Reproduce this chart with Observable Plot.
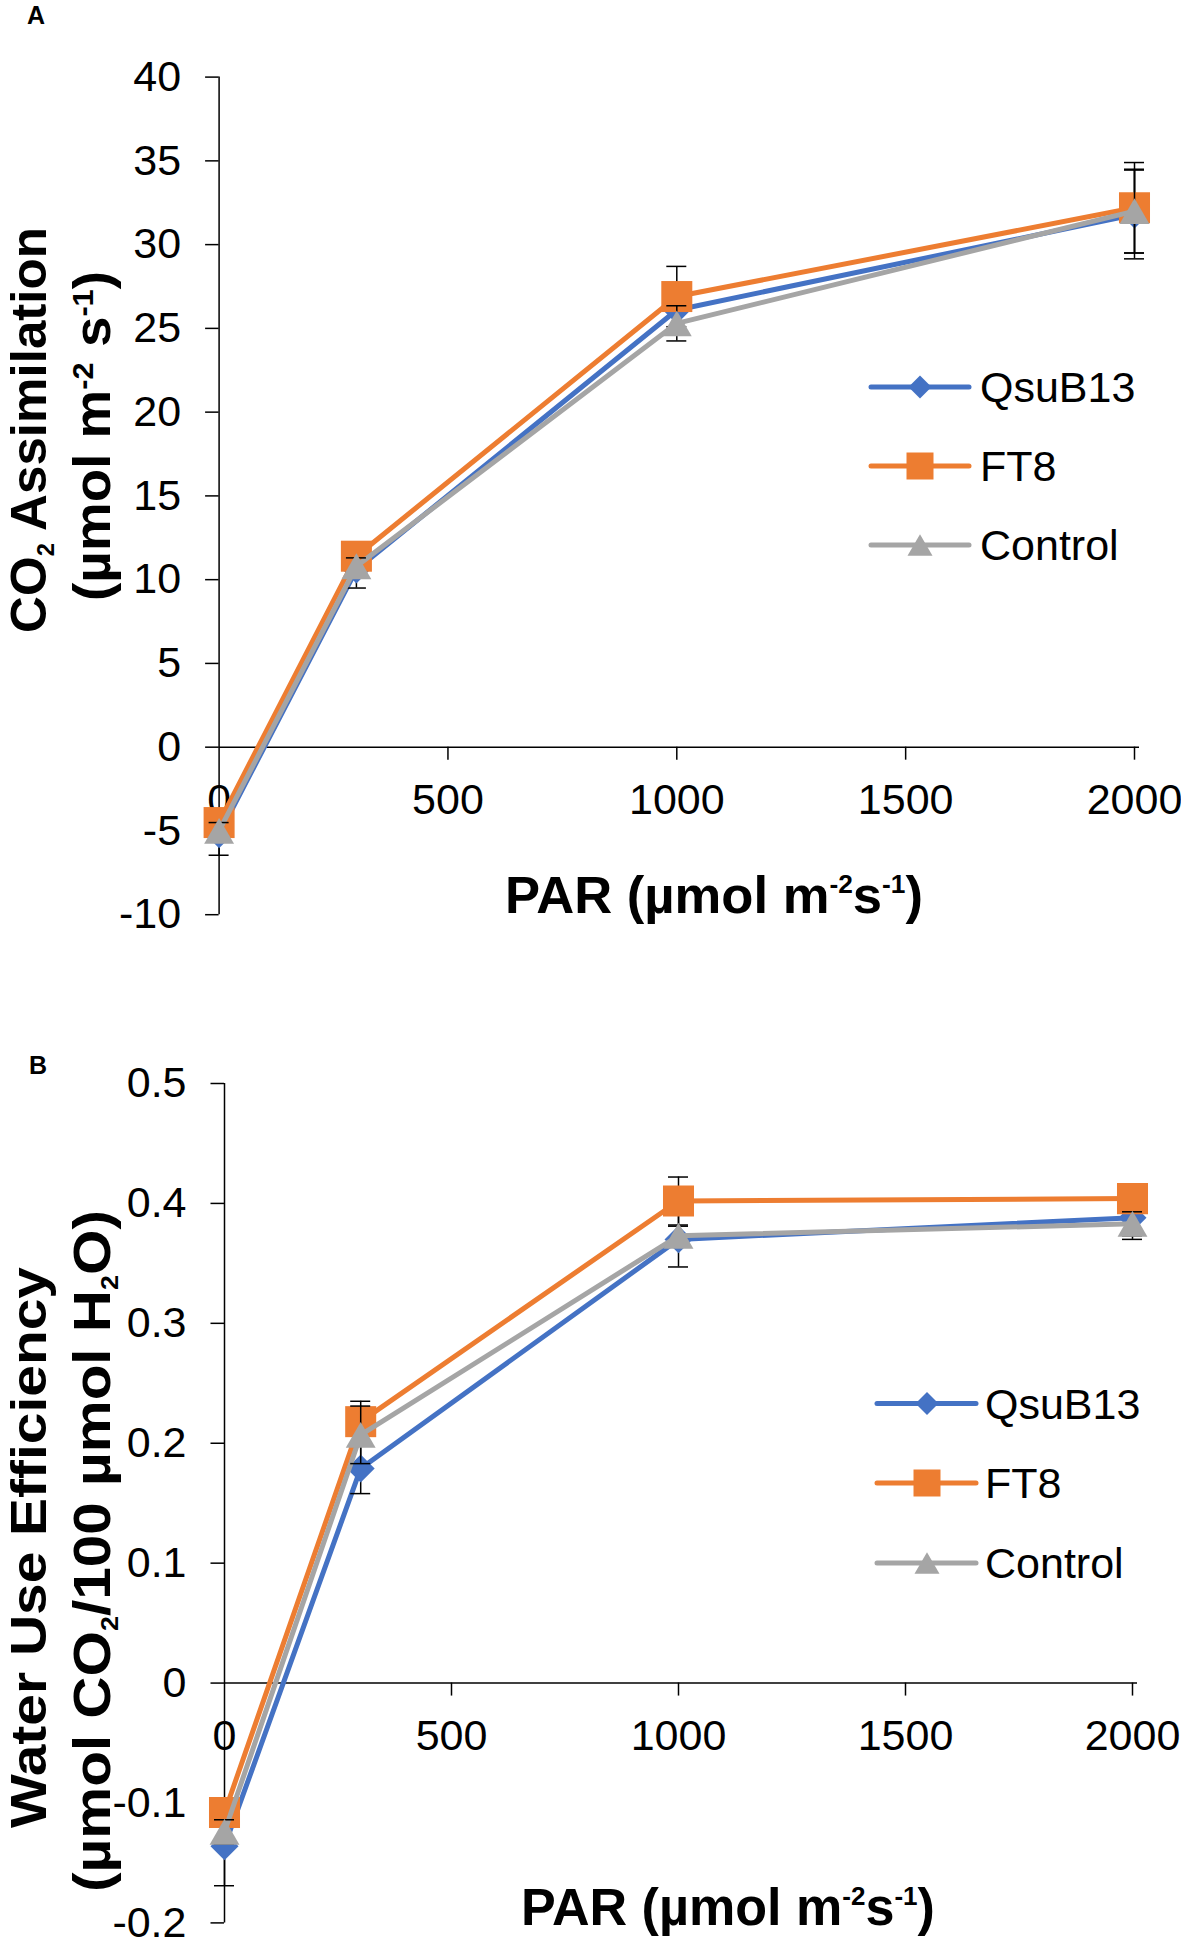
<!DOCTYPE html>
<html>
<head>
<meta charset="utf-8">
<script src="https://cdn.jsdelivr.net/npm/d3@7"></script>
<script src="https://cdn.jsdelivr.net/npm/@observablehq/plot@0.6"></script>
<style>
html, body { margin: 0; padding: 0; background: #fff; overflow: hidden; }
#wrap { position: relative; width: 1181px; height: 1938px; background: #fff; }
#wrap svg { position: absolute; left: 0; }
</style>
</head>
<body>
<div id="wrap"></div>
<script>
// ---------- data ----------
const par = [0, 300, 1000, 2000];
const seriesNames = ["QsuB13", "FT8", "Control"];

const assimQsuB13    = [-5.2, 10.6, 26.1, 31.8];
const assimQsuB13Err = [1.25, 1.1, 1.3, 2.65];
const assimFT8       = [-4.5, 11.4, 26.9, 32.2];
const assimFT8Err    = [0.6, 0.8, 1.8, 2.7];
const assimControl   = [-5.0, 10.8, 25.3, 32.0];
const assimControlErr= [0.5, 0.5, 1.05, 2.5];

const wueQsuB13      = [-0.136, 0.179, 0.370, 0.388];
const wueQsuB13Err   = [0.033, 0.021, 0.023, 0.018];
const wueFT8         = [-0.108, 0.218, 0.402, 0.404];
const wueFT8Err      = [0.010, 0.017, 0.020, 0.012];
const wueControl     = [-0.124, 0.207, 0.373, 0.383];
const wueControlErr  = [0.010, 0.024, 0.008, 0.010];

const xTicks  = [0, 500, 1000, 1500, 2000];
const yTicksA = [-10, -5, 0, 5, 10, 15, 20, 25, 30, 35, 40];
const yTicksB = [-0.2, -0.1, 0, 0.1, 0.2, 0.3, 0.4, 0.5];

// ---------- styles ----------
const FONT = "'Liberation Sans', Arial, Helvetica, sans-serif";
const COLORS = {QsuB13: "#4472C4", FT8: "#ED7D31", Control: "#A5A5A5"};
const SYM = {QsuB13: "diamond2", FT8: "square", Control: "triangle"};
const DOT_R = {QsuB13: 12.6, FT8: 17.5, Control: 11.1};
const DOT_DY = {QsuB13: 0, FT8: 0, Control: 4.3};
const LEG_SYM = {QsuB13: d3.symbolDiamond2, FT8: d3.symbolSquare, Control: d3.symbolTriangle};
const LEG_SIZE = {QsuB13: 337, FT8: 729, Control: 271};
const LEG_DY = {QsuB13: 0, FT8: 0, Control: 3.6};
const LINE_W = 5;

function toRows(vals, errs) {
  return seriesNames.flatMap((s, i) => par.map((x, j) => ({series: s, x, y: vals[i][j], e: errs[i][j]})));
}

const rowsA = toRows([assimQsuB13, assimFT8, assimControl], [assimQsuB13Err, assimFT8Err, assimControlErr]);
const rowsB = toRows([wueQsuB13, wueFT8, wueControl], [wueQsuB13Err, wueFT8Err, wueControlErr]);

function chart({rows, yDomain, yTicks, margins, height}) {
  const marks = [
    Plot.ruleX([0], {stroke: "#000", strokeWidth: 1.5}),
    Plot.ruleY(yTicks, {y: d => d, x1: 0, x2: 0, insetLeft: -13.5, stroke: "#000", strokeWidth: 1.5}),
    Plot.text(yTicks, {x: 0, y: d => d, text: d => String(d), textAnchor: "end", dx: -38, fontSize: 43, fill: "#000"}),
    Plot.ruleY([0], {insetRight: -5, stroke: "#000", strokeWidth: 1.5}),
    Plot.ruleX(xTicks.filter(d => d > 0), {x: d => d, y1: 0, y2: 0, insetBottom: -13, stroke: "#000", strokeWidth: 1.5}),
    Plot.text(xTicks, {x: d => d, y: 0, dy: 53, text: d => String(d), fontSize: 43, fill: "#000"})
  ];
  for (const s of seriesNames) {
    const sub = rows.filter(d => d.series === s);
    marks.push(
      Plot.line(sub, {x: "x", y: "y", stroke: COLORS[s], strokeWidth: LINE_W, strokeLinejoin: "round", strokeLinecap: "round"}),
      Plot.ruleX(sub, {x: "x", y1: d => d.y - d.e, y2: d => d.y + d.e, stroke: "#000", strokeWidth: 1.5}),
      Plot.ruleY(sub, {x1: "x", x2: "x", y: d => d.y + d.e, insetLeft: -10, insetRight: -10, stroke: "#000", strokeWidth: 1.5}),
      Plot.ruleY(sub, {x1: "x", x2: "x", y: d => d.y - d.e, insetLeft: -10, insetRight: -10, stroke: "#000", strokeWidth: 1.5}),
      Plot.dot(sub, {x: "x", y: "y", symbol: SYM[s], r: DOT_R[s], dy: DOT_DY[s], fill: COLORS[s], stroke: "none"})
    );
  }
  return Plot.plot({
    width: 1181,
    height,
    marginLeft: margins[0], marginRight: margins[1], marginTop: margins[2], marginBottom: margins[3],
    x: {domain: [0, 2000], axis: null},
    y: {domain: yDomain, axis: null},
    style: {fontFamily: FONT, color: "#000", background: "transparent", overflow: "visible"},
    marks
  });
}

function addTitle(svg, {x, y, rotate, length, size, parts}) {
  const t = d3.select(svg).append("text")
    .attr("text-anchor", "middle")
    .attr("font-family", FONT)
    .attr("font-weight", "bold")
    .attr("font-size", size)
    .attr("fill", "#000")
    .style("white-space", "pre");
  let prev = 0;
  for (const [str, shift, scale] of parts) {
    t.append("tspan").attr("font-size", size * scale).attr("dy", shift - prev).text(str);
    prev = shift;
  }
  const len = t.node().getComputedTextLength();
  const sx = len > 0 ? length / len : 1;
  t.attr("transform", `translate(${x},${y})` + (rotate ? " rotate(-90)" : "") + ` scale(${sx},1)`);
}

function addLegend(svg, {x1, x2, mx, tx, ys}) {
  const g = d3.select(svg).append("g");
  seriesNames.forEach((s, i) => {
    g.append("line").attr("x1", x1).attr("x2", x2).attr("y1", ys[i]).attr("y2", ys[i])
      .attr("stroke", COLORS[s]).attr("stroke-width", LINE_W).attr("stroke-linecap", "round");
    g.append("path").attr("d", d3.symbol(LEG_SYM[s], LEG_SIZE[s])())
      .attr("transform", `translate(${mx},${ys[i] + LEG_DY[s]})`).attr("fill", COLORS[s]);
    g.append("text").attr("x", tx).attr("y", ys[i]).attr("dy", "0.35em")
      .attr("text-anchor", "start")
      .attr("font-family", FONT).attr("font-size", 43).attr("fill", "#000").text(s);
  });
}

function addLabel(svg, txt, x, y) {
  d3.select(svg).append("text").attr("x", x).attr("y", y).attr("text-anchor", "start")
    .attr("font-family", FONT).attr("font-weight", "bold").attr("font-size", 25).attr("fill", "#000").text(txt);
}

const wrap = document.getElementById("wrap");

// Panel A
const svgA = chart({rows: rowsA, yDomain: [-10, 40], yTicks: yTicksA, margins: [218.6, 47, 76.6, 45.8], height: 960});
svgA.style.top = "0px";
wrap.appendChild(svgA);

// Panel B
const svgB = chart({rows: rowsB, yDomain: [-0.2, 0.5], yTicks: yTicksB, margins: [224, 49, 105, 15.6], height: 960});
svgB.style.top = "978px";
wrap.appendChild(svgB);

// Titles A
addLabel(svgA, "A", 27, 24);
addTitle(svgA, {x: 46, y: 430, rotate: true, length: 406, size: 50,
  parts: [["CO", 0, 1], ["2", 8, 0.46], [" Assimilation", 0, 1]]});
addTitle(svgA, {x: 110, y: 436, rotate: true, length: 330, size: 52,
  parts: [["(µmol m", 0, 1], ["-2", -17, 0.56], [" s", 0, 1], ["-1", -17, 0.56], [")", 0, 1]]});
addTitle(svgA, {x: 714, y: 913, rotate: false, length: 418, size: 52,
  parts: [["PAR (µmol m", 0, 1], ["-2", -20, 0.5], ["s", 0, 1], ["-1", -20, 0.5], [")", 0, 1]]});
addLegend(svgA, {x1: 871, x2: 969, mx: 920, tx: 980, ys: [387, 466, 545]});

// Titles B
addLabel(svgB, "B", 29, 96);
addTitle(svgB, {x: 46, y: 569.5, rotate: true, length: 561, size: 50,
  parts: [["Water Use Efficiency", 0, 1]]});
addTitle(svgB, {x: 110, y: 573, rotate: true, length: 682, size: 52,
  parts: [["(µmol CO", 0, 1], ["2", 8, 0.46], ["/100 µmol H", 0, 1], ["2", 8, 0.46], ["O)", 0, 1]]});
addTitle(svgB, {x: 728, y: 947, rotate: false, length: 414, size: 52,
  parts: [["PAR (µmol m", 0, 1], ["-2", -20, 0.5], ["s", 0, 1], ["-1", -20, 0.5], [")", 0, 1]]});
addLegend(svgB, {x1: 877, x2: 976, mx: 927, tx: 985, ys: [425.5, 505, 585]});
</script>
</body>
</html>
